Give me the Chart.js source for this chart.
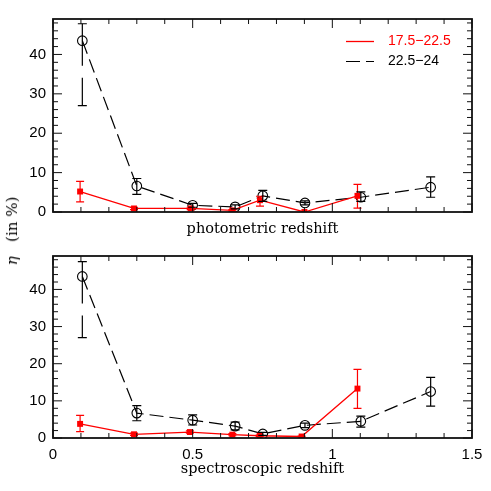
<!DOCTYPE html>
<html><head><meta charset="utf-8">
<script src="https://cdn.jsdelivr.net/npm/chart.js@4"></script>
<style>
body{margin:0;background:#fff;width:491px;height:491px;overflow:hidden;position:relative;}
#c1{position:absolute;left:0;top:0;}
#c2{position:absolute;left:0;top:240px;}
#ylab{position:absolute;left:12px;top:231px;transform:translate(-50%,-50%) rotate(-90deg);font:15px "DejaVu Serif";white-space:pre;color:#000;}
</style></head>
<body>
<canvas id="c1" width="491" height="240"></canvas>
<canvas id="c2" width="491" height="251"></canvas>
<div id="ylab"><i>η</i>   (in %)</div>
<script>
const brightLabel = '17.5\u221222.5';
const faintLabel = '22.5\u221224';
const xTickLabels = ['0', '0.5', '1', '1.5'];
const yTickLabels = ['0', '10', '20', '30', '40'];
const xTitles = ['photometric redshift', 'spectroscopic redshift'];

// photometric redshift panel
const photoBrightZ   = [0.097, 0.29, 0.493, 0.642, 0.741, 0.90, 1.09];
const photoBrightEta = [5.2, 0.9, 0.9, 0.4, 3.0, 0.0, 4.1];
const photoBrightLo  = [2.55, 0.6, 0.6, 0.2, 1.5, 0.0, 1.0];
const photoBrightHi  = [7.8, 1.2, 1.2, 0.6, 4.0, 0.0, 7.0];
const photoFaintZ    = [0.105, 0.30, 0.50, 0.652, 0.751, 0.902, 1.102, 1.352];
const photoFaintEta  = [43.5, 6.6, 1.7, 1.3, 4.1, 2.3, 3.75, 6.3];
const photoFaintLo   = [27.0, 4.5, 1.2, 0.8, 2.7, 1.8, 2.7, 3.75];
const photoFaintHi   = [47.8, 8.5, 2.2, 1.8, 5.5, 2.8, 5.1, 8.9];

// spectroscopic redshift panel
const specBrightZ   = [0.097, 0.29, 0.49, 0.642, 0.74, 0.89, 1.09];
const specBrightEta = [3.8, 1.0, 1.6, 0.9, 0.6, 0.4, 13.3];
const specBrightLo  = [1.7, 0.7, 1.3, 0.6, 0.4, 0.3, 8.0];
const specBrightHi  = [6.1, 1.3, 1.9, 1.2, 0.8, 0.5, 18.5];
const specFaintZ    = [0.105, 0.30, 0.50, 0.652, 0.751, 0.902, 1.102, 1.352];
const specFaintEta  = [43.5, 6.7, 4.8, 3.2, 1.1, 3.4, 4.5, 12.5];
const specFaintLo   = [27.0, 4.65, 3.5, 2.2, 0.7, 2.8, 2.95, 8.6];
const specFaintHi   = [47.5, 8.7, 6.2, 4.3, 1.5, 4.0, 5.9, 16.3];

const RED = '#ff0000', BLACK = '#000000';
const TICK_FONT = {family: '"Liberation Sans", Arial, sans-serif', size: 15};
const TITLE_FONT = {family: '"DejaVu Serif", serif', size: 14.5};

const zip = (xs, ys) => xs.map((x, i) => ({x, y: ys[i]}));

const errorBarPlugin = {
  id: 'errorBars',
  afterDatasetsDraw(chart) {
    const {ctx, scales: {x, y}} = chart;
    ctx.save();
    ctx.beginPath();
    ctx.rect(chart.chartArea.left, chart.chartArea.top - 20, chart.chartArea.right - chart.chartArea.left, chart.chartArea.bottom - chart.chartArea.top + 20);
    ctx.clip();
    chart.data.datasets.forEach(ds => {
      ctx.strokeStyle = ds.borderColor;
      ctx.lineWidth = 1.2;
      ds.data.forEach((p, i) => {
        const px = x.getPixelForValue(p.x);
        const pl = y.getPixelForValue(ds.errLo[i]);
        const ph = y.getPixelForValue(ds.errHi[i]);
        ctx.setLineDash(ds.errDash || []);
        ctx.beginPath(); ctx.moveTo(px, ph); ctx.lineTo(px, pl); ctx.stroke();
        ctx.setLineDash([]);
        ctx.beginPath();
        ctx.moveTo(px - ds.capHalf, ph); ctx.lineTo(px + ds.capHalf, ph);
        ctx.moveTo(px - ds.capHalf, pl); ctx.lineTo(px + ds.capHalf, pl);
        ctx.stroke();
      });
    });
    ctx.restore();
  }
};

const framePlugin = {
  id: 'frame',
  afterDraw(chart) {
    const {ctx, chartArea: a, scales: {x, y}} = chart;
    ctx.save();
    ctx.strokeStyle = '#111';
    ctx.lineWidth = 1;
    for (let i = 0; i <= 15; i++) {
      const px = x.getPixelForValue(i * 0.1);
      const len = (i % 5 === 0) ? 9 : 5;
      ctx.beginPath();
      ctx.moveTo(px, a.bottom); ctx.lineTo(px, a.bottom - len);
      ctx.moveTo(px, a.top); ctx.lineTo(px, a.top + len);
      ctx.stroke();
    }
    for (let v = 0; v <= 48; v += 2) {
      const py = y.getPixelForValue(v);
      const len = (v % 10 === 0) ? 9 : 5;
      ctx.beginPath();
      ctx.moveTo(a.left, py); ctx.lineTo(a.left + len, py);
      ctx.moveTo(a.right, py); ctx.lineTo(a.right - len, py);
      ctx.stroke();
    }
    ctx.lineWidth = 1.8;
    ctx.strokeRect(a.left, a.top, a.right - a.left, a.bottom - a.top);
    ctx.restore();
  }
};

const legendPlugin = {
  id: 'insideLegend',
  afterDraw(chart, args, opts) {
    if (!opts.show) return;
    const {ctx} = chart;
    ctx.save();
    ctx.font = '14px "Liberation Sans", Arial, sans-serif';
    ctx.textBaseline = 'middle';
    const rows = [chart.data.datasets[0], chart.data.datasets[1]];
    const ys = [41.5, 61.5];
    rows.forEach((ds, i) => {
      ctx.strokeStyle = ds.borderColor;
      ctx.lineWidth = ds.borderWidth;
      ctx.setLineDash(ds.borderDash || []);
      ctx.beginPath(); ctx.moveTo(346, ys[i]); ctx.lineTo(374, ys[i]); ctx.stroke();
      ctx.setLineDash([]);
      ctx.fillStyle = ds.borderColor;
      ctx.fillText(ds.label, 388, ys[i]);
    });
    ctx.restore();
  }
};

function makeChart(id, bz, be, blo, bhi, fz, fe, flo, fhi, opt) {
  return new Chart(document.getElementById(id), {
    type: 'scatter',
    data: {
      datasets: [
        {label: brightLabel, data: zip(bz, be), errLo: blo, errHi: bhi, showLine: true,
         borderColor: RED, backgroundColor: RED, borderWidth: 1.3, pointStyle: 'rect',
         pointRadius: 4.2, pointBorderWidth: 0, capHalf: 4, errDash: []},
        {label: faintLabel, data: zip(fz, fe), errLo: flo, errHi: fhi, showLine: true,
         borderColor: BLACK, backgroundColor: 'rgba(0,0,0,0)', borderWidth: 1.2, borderDash: [14, 6],
         pointStyle: 'circle', pointRadius: 4.8, pointBorderWidth: 1.1, capHalf: 4.5, errDash: [42, 12]}
      ]
    },
    options: {
      responsive: false, animation: false, devicePixelRatio: 1,
      layout: {padding: {left: 0, right: 19, top: opt.top, bottom: 0}},
      plugins: {legend: {display: false}, tooltip: {enabled: false}, insideLegend: {show: opt.legend}},
      scales: {
        x: {
          type: 'linear', min: 0, max: 1.5,
          grid: {display: false, drawTicks: false}, border: {display: false},
          ticks: {display: opt.xLabels, stepSize: 0.5, padding: 8, color: '#000', font: TICK_FONT,
                  callback: (v) => xTickLabels[Math.round(v / 0.5)]},
          title: {display: true, text: opt.title, color: '#000', font: TITLE_FONT,
                  padding: {top: 0, bottom: opt.titlePad}},
          afterFit: (s) => { s.height = opt.xHeight; }
        },
        y: {
          type: 'linear', min: 0, max: 49,
          grid: {display: false, drawTicks: false}, border: {display: false},
          ticks: {stepSize: 10, padding: 7, color: '#000', font: TICK_FONT,
                  callback: (v) => yTickLabels[Math.round(v / 10)]},
          afterBuildTicks: (s) => { s.ticks = s.ticks.filter(t => t.value % 10 === 0); },
          afterFit: (s) => { s.width = 53; }
        }
      }
    },
    plugins: [errorBarPlugin, framePlugin, legendPlugin]
  });
}

makeChart('c1', photoBrightZ, photoBrightEta, photoBrightLo, photoBrightHi,
          photoFaintZ, photoFaintEta, photoFaintLo, photoFaintHi,
          {top: 19, legend: true, xLabels: false, title: xTitles[0], titlePad: 2.5, xHeight: 28});
makeChart('c2', specBrightZ, specBrightEta, specBrightLo, specBrightHi,
          specFaintZ, specFaintEta, specFaintLo, specFaintHi,
          {top: 6, legend: false, xLabels: true, title: xTitles[1], titlePad: 13.5, xHeight: 53});
</script>
</body></html>
